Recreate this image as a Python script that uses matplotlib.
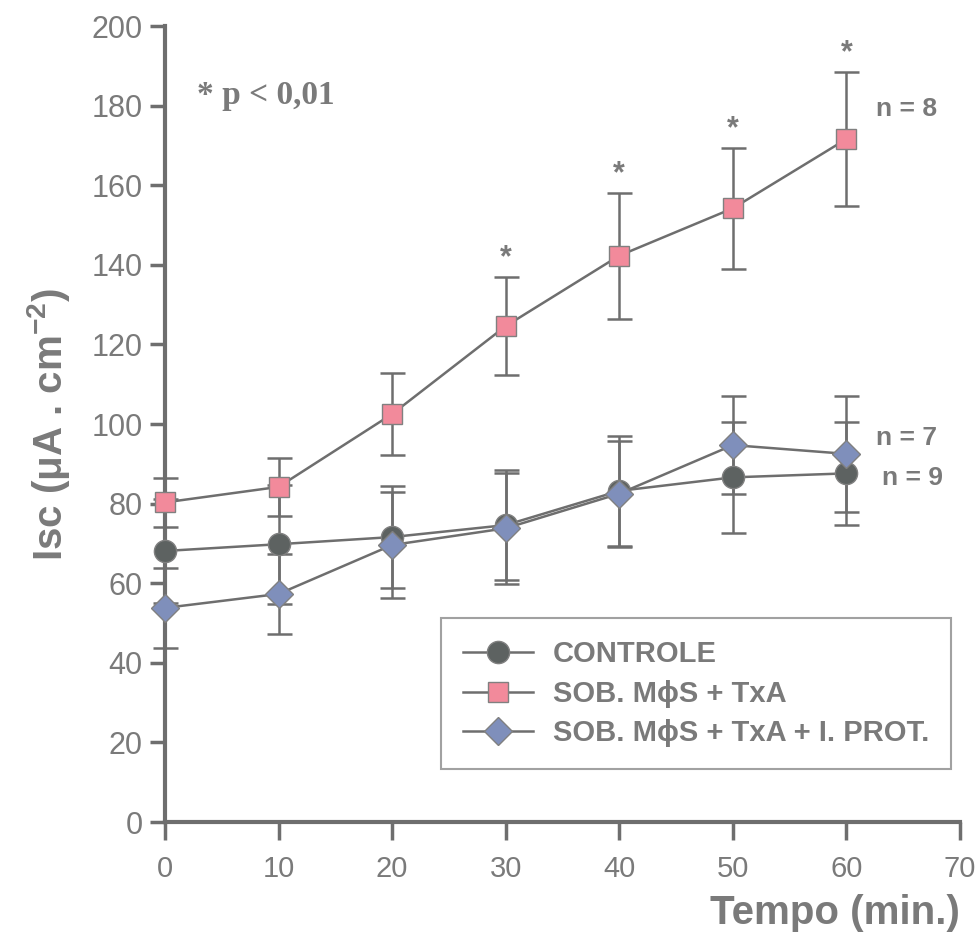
import matplotlib
matplotlib.use("Agg")
import matplotlib.pyplot as plt

# dados
tempo = [0, 10, 20, 30, 40, 50, 60]

controle = [68.1, 69.8, 71.6, 74.6, 83.2, 86.6, 87.6]
controle_err = [13.0, 15.0, 12.8, 13.8, 13.8, 13.9, 13.0]

txa = [80.3, 84.2, 102.5, 124.6, 142.3, 154.2, 171.6]
txa_err = [6.2, 7.3, 10.2, 12.3, 15.8, 15.2, 16.8]

prot = [53.8, 57.3, 69.6, 73.8, 82.5, 94.7, 92.5]
prot_err = [10.0, 10.0, 13.4, 14.0, 13.3, 12.4, 14.5]

signif = [30, 40, 50, 60]   # pontos com * p < 0,01

nomes = ["CONTROLE", "SOB. M\u03d5S + TxA", "SOB. M\u03d5S + TxA + I. PROT."]
n_labels = ["n = 9", "n = 8", "n = 7"]

cinza = "#6e6e6e"
texto = "#7a7a7a"
sans = ["Liberation Sans", "DejaVu Sans"]
narrow = ["Liberation Sans Narrow", "Liberation Sans", "DejaVu Sans"]

fig = plt.figure(figsize=(9.79, 9.43), dpi=100)
ax = fig.add_axes([0.1685, 0.1283, 0.8121, 0.8441])

linhas = []
series = [
    (controle, controle_err, "o", "#5d6261", 16),
    (txa, txa_err, "s", "#f28a9b", 15),
    (prot, prot_err, "D", "#7f8fbb", 14),
]
for (vals, errs, mk, cor, ms), nome in zip(series, nomes):
    ax.errorbar(tempo, vals, yerr=errs, fmt="none", ecolor=cinza,
                elinewidth=1.8, capsize=9, capthick=1.8, zorder=2, clip_on=False)
    l, = ax.plot(tempo, vals, color=cinza, lw=1.8, marker=mk, ms=ms,
                 markerfacecolor=cor, markeredgecolor="#808080",
                 markeredgewidth=1.0, label=nome, zorder=3, clip_on=False)
    linhas.append(l)

# asteriscos
for t in signif:
    i = tempo.index(t)
    ax.text(t, txa[i] + txa_err[i] + 1.0, "*", ha="center", va="bottom",
            fontsize=22, fontweight="bold", color=texto, family=sans)

ax.text(60 + 2.6, txa[-1] + 7.5, n_labels[1], fontsize=19, fontweight="bold",
        color=texto, family=sans, va="center")
ax.text(60 + 2.6, prot[-1] + 4.0, n_labels[2], fontsize=19, fontweight="bold",
        color=texto, family=sans, va="center")
ax.text(60 + 3.1, controle[-1] - 1.2, n_labels[0], fontsize=19, fontweight="bold",
        color=texto, family=sans, va="center")

ax.text(2.8, 182.5, "* p < 0,01", fontsize=24, fontweight="bold", color=texto,
        family=["Liberation Serif", "DejaVu Serif"], va="center")

ax.set_xlim(0, 70)
ax.set_ylim(0, 200)
ax.set_xticks(range(0, 71, 10))
ax.set_yticks(range(0, 201, 20))
for s in ["top", "right"]:
    ax.spines[s].set_visible(False)
for s in ["left", "bottom"]:
    ax.spines[s].set_color(cinza)
    ax.spines[s].set_linewidth(3)
ax.tick_params(axis="y", direction="out", length=11, width=2.5, color=cinza,
               labelsize=22, labelcolor=texto, pad=5)
ax.tick_params(axis="x", direction="out", length=13, width=2.5, color=cinza,
               labelsize=21, labelcolor=texto, pad=11)
for lab in ax.get_yticklabels():
    lab.set_family(sans)
for lab in ax.get_xticklabels():
    lab.set_family(narrow)
ax.patch.set_alpha(0)

ax.set_ylabel("Isc ($\\mathregular{\\mu}$A . cm$^{\\mathregular{-2}}$)",
              fontsize=29, fontweight="bold", color=texto, family=narrow,
              labelpad=14)
ax.set_xlabel("Tempo (min.)", fontsize=29, fontweight="bold", color=texto,
              family=narrow, labelpad=8, loc="right")

leg = ax.legend(handles=linhas, loc="upper left", bbox_to_anchor=(0.347, 0.256),
                borderaxespad=0, frameon=True, fancybox=False, handlelength=2.4,
                borderpad=0.75, labelspacing=0.4, handletextpad=0.7,
                prop={"family": sans, "weight": "bold", "size": 21})
leg.get_frame().set_edgecolor("#8a8a8a")
leg.get_frame().set_linewidth(1.5)
for t in leg.get_texts():
    t.set_color(texto)

fig.savefig("out.png", dpi=100)
